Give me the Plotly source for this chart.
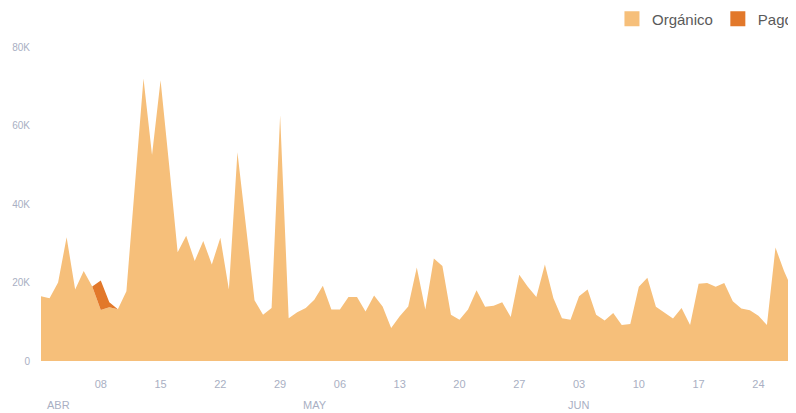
import pandas as pd
import plotly.graph_objects as go

start_date = "2024-04-01"
organico_k = [16.5, 16, 20, 31.5, 18.2, 22.9, 19, 13, 13.7, 13.2,
              17.8, 44, 72, 52.5, 71.5, 50, 27.7, 31.9, 25.5, 30.6,
              24.6, 31.4, 18.2, 53.2, 34, 15.5, 11.8, 13.5, 62.6, 10.9,
              12.4, 13.5, 15.6, 19.2, 13.1, 13.1, 16.3, 16.3, 12.6, 16.7,
              13.9, 8.4, 11.4, 13.9, 23.8, 13.1, 26.1, 24.2, 11.8, 10.5,
              13.1, 18, 13.8, 14.1, 15, 11.2, 22, 18.9, 16.3, 24.6,
              16, 10.9, 10.5, 16.5, 18.2, 11.8, 10.3, 12.2, 9.2, 9.4,
              18.9, 21.2, 13.8, 12.4, 10.8, 13.5, 9.2, 19.7, 19.9, 18.9,
              19.9, 15.2, 13.4, 12.9, 11.5, 9.2, 28.9, 22.9, 18]
pago_k = [0] * 7 + [7.5, 1.3] + [0] * 80

day_ticks = ["2024-04-08", "2024-04-15", "2024-04-22", "2024-04-29",
             "2024-05-06", "2024-05-13", "2024-05-20", "2024-05-27",
             "2024-06-03", "2024-06-10", "2024-06-17", "2024-06-24"]
day_labels = ["08", "15", "22", "29", "06", "13", "20", "27", "03", "10", "17", "24"]
month_starts = ["2024-04-01", "2024-05-01", "2024-06-01"]
month_labels = ["ABR", "MAY", "JUN"]
y_ticks = [0, 20000, 40000, 60000, 80000]
y_labels = ["0", "20K", "40K", "60K", "80K"]

c_org = "#F6BF7A"
c_pago = "#E2782A"
tick_col = "#A9AFC3"

dates = pd.date_range(start_date, periods=len(organico_k), freq="D")
organico = [v * 1000 for v in organico_k]
pago = [v * 1000 for v in pago_k]

fig = go.Figure()
fig.add_trace(go.Scatter(x=dates, y=organico, stackgroup="one", mode="lines",
                         line=dict(width=0, color=c_org), fillcolor=c_org,
                         name="Orgánico", showlegend=False))
fig.add_trace(go.Scatter(x=dates, y=pago, stackgroup="one", mode="lines",
                         line=dict(width=0, color=c_pago), fillcolor=c_pago,
                         name="Pago", showlegend=False))
for nm, col in [("Orgánico", c_org), ("Pago", c_pago)]:
    fig.add_trace(go.Scatter(x=[None], y=[None], mode="markers", name=nm,
                             marker=dict(symbol="square", size=15, color=col)))

for d, t in zip(month_starts, month_labels):
    fig.add_annotation(x=d, y=0, xref="x", yref="paper", text=t, showarrow=False,
                       xanchor="left", yanchor="middle", xshift=4, yshift=-44,
                       font=dict(size=11, color=tick_col))

x_end = pd.Timestamp(start_date) + pd.Timedelta(days=87.7)
fig.update_layout(
    width=788, height=405,
    margin=dict(l=33, r=6, t=39, b=52, autoexpand=False),
    paper_bgcolor="white", plot_bgcolor="white",
    font=dict(family="Liberation Sans, Arial, sans-serif"),
    legend=dict(orientation="h", xref="paper", yref="container",
                x=0.7623, xanchor="left", y=0.973, yanchor="middle",
                traceorder="normal",
                font=dict(size=15, color="#5a5a5a"), bgcolor="rgba(0,0,0,0)",
                itemclick=False),
    xaxis=dict(range=[pd.Timestamp(start_date), x_end], showgrid=False,
               zeroline=False, showline=False, tickmode="array", automargin=False,
               tickvals=day_ticks, ticktext=day_labels, ticks="",
               ticklabelstandoff=15,
               tickfont=dict(size=11, color=tick_col)),
    yaxis=dict(range=[0, 80000], showgrid=False, zeroline=False, showline=False,
               tickmode="array", tickvals=y_ticks, ticktext=y_labels, ticks="",
               ticklabelstandoff=10, automargin=False,
               tickfont=dict(size=10, color=tick_col)),
)
fig.write_html("out.html")
